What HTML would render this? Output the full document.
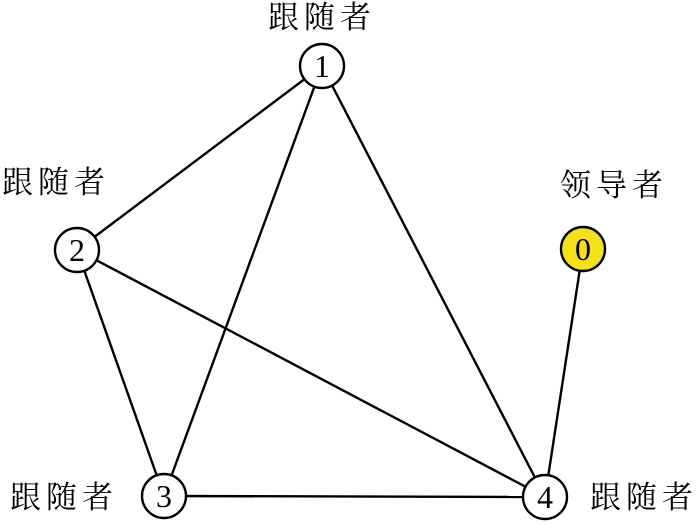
<!DOCTYPE html>
<html><head><meta charset="utf-8"><style>
html,body{margin:0;padding:0;background:#fff;}
svg{display:block}
text{font-family:"Liberation Serif","Noto Serif CJK SC",serif;}
.l{font-size:31px;letter-spacing:5px;}
.n{font-size:32px;text-anchor:middle;}
</style></head><body>
<svg width="700" height="525" viewBox="0 0 700 525">
<g stroke="#000" stroke-width="2.4" fill="none">
<line x1="322" y1="66" x2="77" y2="250"/>
<line x1="322" y1="66" x2="164" y2="496"/>
<line x1="322" y1="66" x2="545" y2="497"/>
<line x1="77" y1="250" x2="164" y2="496"/>
<line x1="77" y1="250" x2="545" y2="497"/>
<line x1="164" y1="496" x2="545" y2="497"/>
<line x1="583" y1="249" x2="545" y2="497"/>
</g>
<g stroke="#000" stroke-width="2.4">
<circle cx="322" cy="66" r="22" fill="#fff"/>
<circle cx="77" cy="250" r="22" fill="#fff"/>
<circle cx="164" cy="496" r="22" fill="#fff"/>
<circle cx="545" cy="497" r="22" fill="#fff"/>
<circle cx="583" cy="249" r="22" fill="#f5e11a"/>
</g>
<text class="n" x="322" y="77">1</text>
<text class="n" x="77" y="261">2</text>
<text class="n" x="164" y="507">3</text>
<text class="n" x="545" y="508">4</text>
<text class="n" x="583" y="260">0</text>
<text class="l" x="268" y="28">跟随者</text>
<text class="l" x="2" y="193">跟随者</text>
<text class="l" x="560" y="196">领导者</text>
<text class="l" x="10" y="508">跟随者</text>
<text class="l" x="590" y="508">跟随者</text>
</svg>
</body></html>
